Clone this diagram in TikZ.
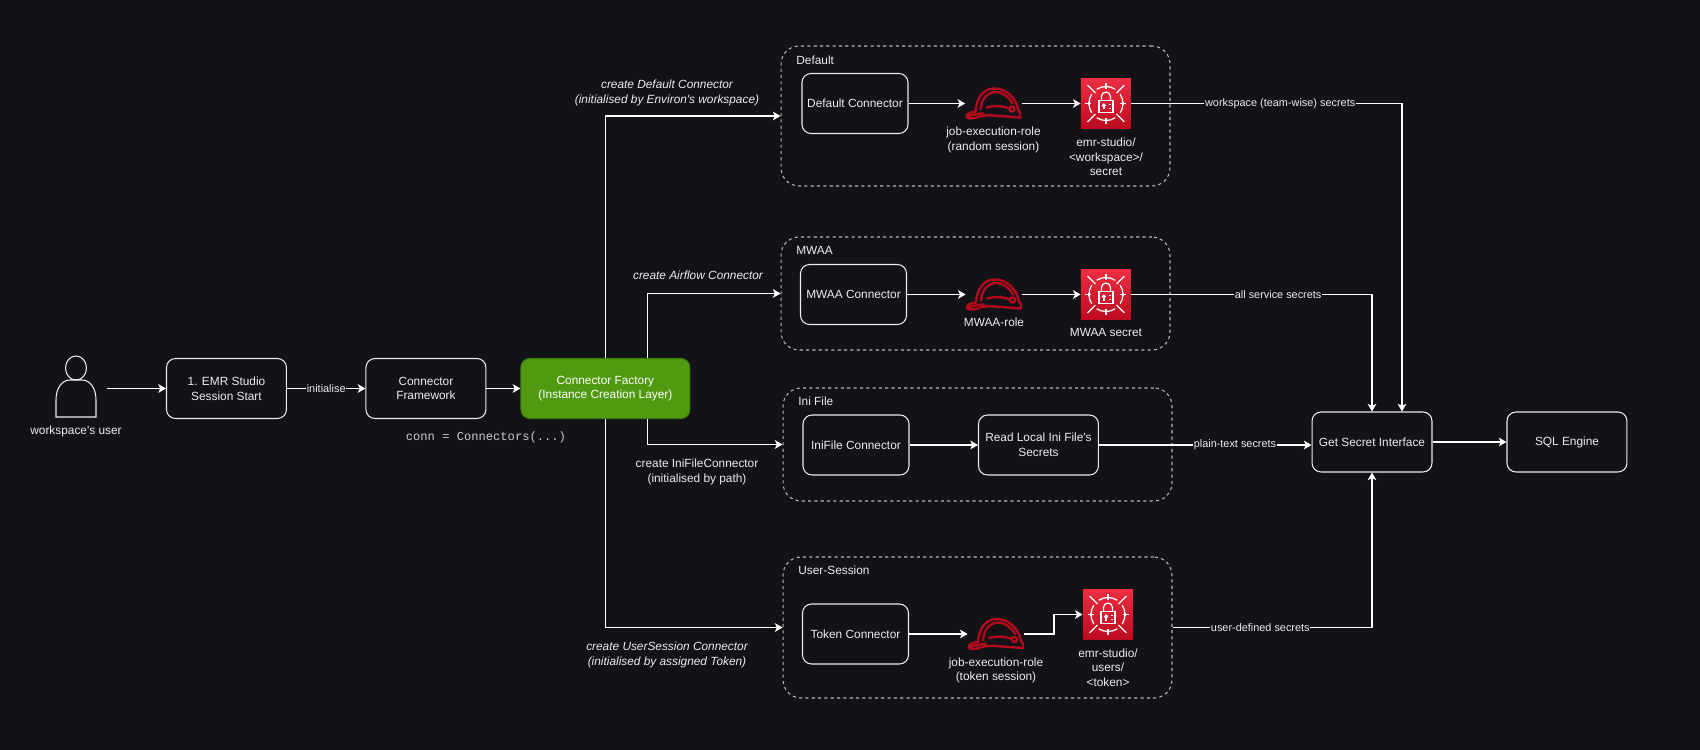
\documentclass[tikz,border=0pt]{standalone}
\usepackage{fontspec}
\setmainfont{Liberation Sans}[Ligatures=TeXOff]
\newfontfamily\codefont{Liberation Mono}[Ligatures=TeXOff]
\usetikzlibrary{arrows.meta,calc}
\definecolor{pagedark}{HTML}{121217}
\definecolor{factorygreen}{HTML}{4F9A10}
\definecolor{factoryedge}{HTML}{3F7F0C}
\definecolor{helmetred}{HTML}{B00A1C}
\definecolor{softwhite}{HTML}{EDEDED}
\definecolor{secrettop}{HTML}{EC2E42}
\definecolor{secretbottom}{HTML}{BD0A20}
\newcommand{\helmetglyph}{%
  \begin{scope}[shift={(path picture bounding box.center)}, helmetred, line width=1.4pt, line join=round, line cap=round]
    \draw (-18,8) .. controls (-17,-6) and (-10,-15) .. (1,-15) .. controls (13,-15) and (23,-5) .. (25,7);
    \draw (-13,6) .. controls (-12,-5) and (-6,-11) .. (2,-11.5) .. controls (9,-11.5) and (15,-7) .. (19,0);
    \draw (-18,8) .. controls (-25,9) and (-27,11) .. (-27,13) .. controls (-27,15.5) and (-21,15.5) .. (-17,14) .. controls (-12,12) and (-8,11.5) .. (0,12) -- (27,14) -- (27,10) -- (25,7);
    \draw (-7,4) .. controls (0,2) and (8,2) .. (16,5);
    \draw (18.5,5.5) circle (2.6);
    \draw (-26,13) .. controls (-20,11) and (-15,10) .. (-10,10);
  \end{scope}}
\newcommand{\secretglyph}{%
  \begin{scope}[shift={(path picture bounding box.center)}, white, line width=0.7pt]
    \foreach \a in {45,135,225,315} {
      \draw ({\a+12}:17) arc[start angle=\a+12, end angle=\a+78, radius=17];
      \draw (\a:15) -- (\a:26);
    }
    \foreach \a in {0,90,180,270} {
      \draw (\a:14.5) -- (\a:20.5);
      \draw ($(\a:17)+(\a+90:1.8)$) -- ($(\a:17)+(\a-90:1.8)$);
    }
    \draw (-7,-3) rectangle (7,9);
    \draw (-4.5,-3) -- (-4.5,-7) arc[start angle=180, end angle=360, radius=4.5] -- (4.5,-3);
    \draw (-2,2) circle (1.4);
    \draw (-2,3.4) -- (-2,6);
    \draw (3,1) -- (5,1) (3,5) -- (5,5);
  \end{scope}}
\begin{document}
\begin{tikzpicture}[x=0.02cm, y=-0.02cm, node distance=2cm, font=\fontsize{6.75}{8.3}\selectfont, text=softwhite,
  main/.style = {draw=softwhite, line width=0.6pt, rounded corners=0.18cm, minimum width=2.4cm, minimum height=1.2cm, align=center, inner sep=0pt},
  factory/.style = {main, draw=factoryedge, fill=factorygreen, text=white, minimum width=3.38cm},
  conncard/.style = {main, minimum width=2.12cm},
  group/.style = {draw=softwhite!75!pagedark, line width=0.6pt, dash pattern=on 1.8pt off 1.8pt, rounded corners=0.36cm, minimum width=7.78cm, inner sep=0pt},
  grouptitle/.style = {anchor=west, inner sep=0pt},
  caption/.style = {align=center, inner sep=0pt},
  flowtext/.style = {caption, font=\fontsize{6.75}{8.3}\selectfont\itshape},
  edgetext/.style = {fill=pagedark, inner sep=0.4pt, font=\fontsize{6.2}{7.5}\selectfont},
  flow/.style = {draw=white, line width=0.6pt, -{Stealth[length=4.4pt, width=5pt, inset=1.2pt]}},
  helmet/.style = {minimum width=1.12cm, minimum height=0.66cm, inner sep=0pt, path picture={\helmetglyph}},
  secret/.style = {minimum size=1cm, inner sep=0pt, top color=secrettop, bottom color=secretbottom, path picture={\secretglyph}},
  actor/.style = {minimum width=0.84cm, minimum height=1.26cm, inner sep=0pt}]
  \fill[pagedark] (0,0) rectangle (1700,750);

  % left to right along the middle
  \node[actor] (user) at (76,387) {};
  \draw[softwhite, line width=0.6pt] ([yshift=0.38cm]user.center) ellipse [x radius=10.5, y radius=12];
  \draw[softwhite, line width=0.6pt] (56,417) -- (56,400) .. controls (56,388) and (62,380) .. (70,380) -- (82,380) .. controls (90,380) and (96,388) .. (96,400) -- (96,417) -- cycle;
  \node[caption] (userlabel) [below of=user, node distance=0.88cm] {workspace's user};
  \node[main] (start) [right of=user, node distance=3.01cm, yshift=-0.03cm] {1. EMR Studio\\Session Start};
  \node[main] (framework) [right of=start, node distance=3.99cm] {Connector\\Framework};
  \node[factory] (factory) [right of=framework, node distance=3.59cm] {Connector Factory\\(Instance Creation Layer)};
  \node[caption, font=\fontsize{6.9}{8}\selectfont\codefont, text=softwhite!85!pagedark] (connlabel) [below of=framework, node distance=0.98cm, xshift=1.2cm] {conn = Connectors(...)};

  % Default
  \node[group, minimum height=2.8cm] (defaultgroup) at (975.5,116) {};
  \node[grouptitle] (defaulttitle) at (796,60) {Default};
  \node[conncard] (defaultconn) at (855,103.5) {Default Connector};
  \node[helmet] (defaultrole) [right of=defaultconn, node distance=2.77cm] {};
  \node[secret] (defaultsecret) [right of=defaultrole, node distance=2.25cm] {};
  \node[caption] (defaultrolelabel) [below of=defaultrole, node distance=0.73cm] {job-execution-role\\(random session)};
  \node[caption] (defaultsecretlabel) [below of=defaultsecret, node distance=1.07cm] {emr-studio/\\<workspace>/\\secret};

  % MWAA
  \node[group, minimum height=2.26cm] (mwaagroup) at (975.5,293.5) {};
  \node[grouptitle] (mwaatitle) at (796,250) {MWAA};
  \node[conncard] (mwaaconn) at (853.5,294.5) {MWAA Connector};
  \node[helmet] (mwaarole) [right of=mwaaconn, node distance=2.81cm] {};
  \node[secret] (mwaasecret) [right of=mwaarole, node distance=2.24cm] {};
  \node[caption] (mwaarolelabel) [below of=mwaarole, node distance=0.55cm] {MWAA-role};
  \node[caption] (mwaasecretlabel) [below of=mwaasecret, node distance=0.76cm] {MWAA secret};

  % Ini File
  \node[group, minimum height=2.26cm] (inigroup) at (977.5,444.5) {};
  \node[grouptitle] (inititle) at (798,401) {Ini File};
  \node[conncard] (iniconn) at (856,445) {IniFile Connector};
  \node[main] (readfile) [right of=iniconn, node distance=3.65cm] {Read Local Ini File's\\Secrets};

  % User-Session
  \node[group, minimum height=2.82cm] (tokengroup) at (977.5,627.5) {};
  \node[grouptitle] (tokentitle) at (798,570) {User-Session};
  \node[conncard] (tokenconn) at (855.5,634) {Token Connector};
  \node[helmet] (tokenrole) [right of=tokenconn, node distance=2.81cm] {};
  \node[secret] (tokensecret) at (1108,614.5) {};
  \coordinate (tokenbend) at (1054,634);
  \node[caption] (tokenrolelabel) [below of=tokenrole, node distance=0.73cm] {job-execution-role\\(token session)};
  \node[caption] (tokensecretlabel) [below of=tokensecret, node distance=1.06cm] {emr-studio/\\users/\\<token>};

  % right hand side
  \node[main] (getsecret) at (1372,442) {Get Secret Interface};
  \node[main] (engine) [right of=getsecret, node distance=3.9cm] {SQL Engine};

  \draw[flow] (user.east |- start) ++(0.2cm,0) -- (start.west);
  \draw[flow] (start) -- node[edgetext] (initlabel) {initialise} (framework);
  \draw[flow] (framework) -- (factory);
  \draw[flow] (factory.north) |- (defaultgroup.west);
  \draw[flow] ([xshift=0.84cm]factory.north) |- (mwaagroup.west);
  \draw[flow] ([xshift=0.84cm]factory.south) |- (inigroup.west);
  \draw[flow] (factory.south) |- (tokengroup.west);
  \node[flowtext] (defaultflow) at (667,93) {create Default Connector\\(initialised by Environ's workspace)};
  \node[flowtext] (mwaaflow) at (698,275) {create Airflow Connector};
  \node[caption] (iniflow) at (697,472) {create IniFileConnector\\(initialised by path)};
  \node[flowtext] (tokenflow) at (667,655) {create UserSession Connector\\(initialised by assigned Token)};

  \draw[flow] (defaultconn) -- (defaultrole);
  \draw[flow] (defaultrole) -- (defaultsecret);
  \draw[flow] (mwaaconn) -- (mwaarole);
  \draw[flow] (mwaarole) -- (mwaasecret);
  \draw[flow] (iniconn) -- (readfile);
  \draw[flow] (tokenconn) -- (tokenrole);
  \draw[flow] (tokenrole) -- (tokenbend) |- (tokensecret.west);

  \draw[flow] (defaultsecret.east) -| node[edgetext, pos=0.275] (defaultedge) {workspace (team-wise) secrets} ([xshift=0.6cm]getsecret.north);
  \draw[flow] (mwaasecret.east) -| node[edgetext, pos=0.305] (mwaaedge) {all service secrets} (getsecret.north);
  \draw[flow] (readfile.east) -- node[edgetext, pos=0.64] (iniedge) {plain-text secrets} (readfile.east -| getsecret.west);
  \draw[flow] (tokengroup.east) -| node[edgetext, pos=0.22] (tokenedge) {user-defined secrets} (getsecret.south);
  \draw[flow] (getsecret) -- (engine);
\end{tikzpicture}
\end{document}
